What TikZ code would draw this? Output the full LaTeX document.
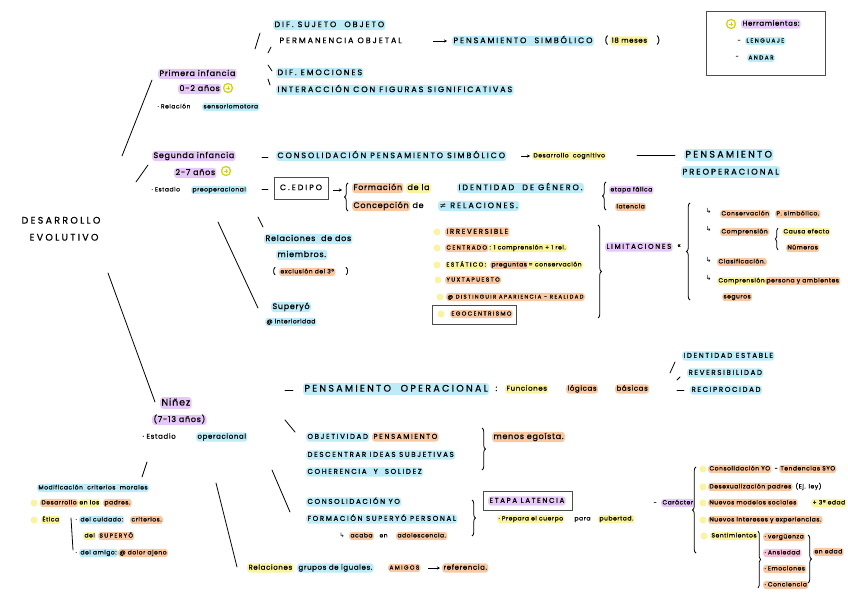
\documentclass[tikz,border=0pt]{standalone}
\usepackage{fontspec}
\usetikzlibrary{decorations.pathreplacing,arrows.meta}
\newfontfamily\hw[LetterSpace=9,FakeBold=0.6]{Poppins}
\newfontfamily\hwc[LetterSpace=24,FakeBold=0.6]{Poppins}
\newfontfamily\dv{DejaVu Sans}
\definecolor{cb}{HTML}{BDEBF7}
\definecolor{cp}{HTML}{E6C8F6}
\definecolor{cy}{HTML}{FAF3A0}
\definecolor{co}{HTML}{F8C8A2}
\definecolor{ck}{HTML}{F7C2D8}
\definecolor{ci}{HTML}{D2D21E}
\tikzset{
 hl/.style={anchor=west, inner sep=1.3pt, rounded corners=3pt},
 B/.style={hl, fill=cb}, P/.style={hl, fill=cp}, Y/.style={hl, fill=cy},
 O/.style={hl, fill=co}, K/.style={hl, fill=ck}, N/.style={hl},
 s1/.style={font=\hw\fontsize{6}{7}\selectfont, text height=4.3pt, text depth=1.4pt},
 s2/.style={font=\hw\fontsize{7}{8}\selectfont, text height=5pt, text depth=1.6pt},
 s3/.style={font=\hw\fontsize{8}{9}\selectfont, text height=5.8pt, text depth=1.8pt},
 s4/.style={font=\hw\fontsize{9.5}{11}\selectfont, text height=7pt, text depth=2pt},
 c1/.style={font=\hwc\fontsize{5.8}{7}\selectfont, text height=4.4pt, text depth=1.3pt},
 c2/.style={font=\hwc\fontsize{7}{8}\selectfont, text height=5.2pt, text depth=1.5pt},
 c3/.style={font=\hwc\fontsize{8}{9}\selectfont, text height=6pt, text depth=1.7pt},
 c4/.style={font=\hwc\fontsize{9.5}{11}\selectfont, text height=7.2pt, text depth=2pt},
 stroke/.style={line width=0.8pt, line cap=round},
 arr/.style={line width=0.7pt, -{Stealth[length=3pt,width=3pt]}},
 brc/.style={line width=0.8pt, decorate, decoration={brace, amplitude=3.5pt}},
 icon/.style={circle, draw=ci, line width=1.3pt, minimum size=9pt, inner sep=0pt,
   path picture={\draw[ci, line width=0.9pt]
     ([xshift=-1.8pt]path picture bounding box.center) -- ([xshift=1.8pt]path picture bounding box.center)
     ([yshift=-1.8pt]path picture bounding box.center) -- ([yshift=1.8pt]path picture bounding box.center);}},
 ydot/.style={circle, fill=cy, minimum size=7pt, inner sep=0pt,
   path picture={\fill (path picture bounding box.center) circle (0.7pt);}},
 frame/.style={draw=black!70, line width=0.9pt, inner sep=0pt},
}
\begin{document}
\begin{tikzpicture}[x=1pt,y=-1pt]
\fill[white] (0,0) rectangle (848,599);
\useasboundingbox (0,0) rectangle (848,599);

% ---------- centre ----------
\node[N,c4,anchor=center] (dev1) at (61,221) {DESARROLLO};
\node[N,c4,anchor=center] (dev2) at (64,238) {EVOLUTIVO};

% main strokes
\coordinate (L1a) at (122,156); \coordinate (L1b) at (152,80);
\coordinate (L2a) at (136,182); \coordinate (L2b) at (148,165);
\coordinate (L3a) at (108,273); \coordinate (L3b) at (155,402);
\draw[stroke] (L1a) -- (L1b);
\draw[stroke] (L2a) -- (L2b);
\draw[stroke] (L3a) -- (L3b);

% ---------- primera infancia ----------
\node[P,s3] (p1) at (158,74) {Primera infancia};
\node[P,s3] (p2) at (178,89) {0-2 años};
\node[icon] (ic1) at (228,88) {};
\node[N,s1] (p3) at (156,107) {· Relación};
\node[B,s1] (p4) at (202,107) {sensoriomotora};

\coordinate (a1) at (255,49); \coordinate (a2) at (260,33);
\coordinate (a3) at (268,53); \coordinate (a4) at (271,47);
\coordinate (a5) at (268,65); \coordinate (a6) at (272,71);
\coordinate (a7) at (268,79); \coordinate (a8) at (270,85);
\draw[stroke] (a1) -- (a2); \draw[stroke] (a3) -- (a4);
\draw[stroke] (a5) -- (a6); \draw[stroke] (a7) -- (a8);

\node[B,c3] (t1) at (273,25) {DIF.~SUJETO~ OBJETO};
\node[N,c3] (t2) at (278,41) {PERMANENCIA OBJETAL};
\coordinate (ta1) at (433,41); \coordinate (ta2) at (447,41);
\draw[arr] (ta1) -- (ta2);
\node[B,c3] (t3) at (452,41) {PENSAMIENTO~ SIMBÓLICO};
\node[N,s3] (t4) at (603,41) {(};
\node[Y,s2] (t5) at (610,41) {18 meses};
\node[N,s3] (t6) at (655,41) {)};
\node[B,c3] (t7) at (276,73) {DIF. EMOCIONES};
\node[B,c3] (t8) at (276,90) {INTERACCIÓN CON FIGURAS SIGNIFICATIVAS};

% ---------- herramientas box ----------
\node[frame, minimum width=119pt, minimum height=64pt] (hbox) at (765.5,43) {};
\node[icon] (ic2) at (731,24) {};
\node[P,s2] (h1) at (741,24) {Herramientas:};
\node[N,s1] (h2a) at (736,41) {-};
\node[B,c1] (h2) at (745,41) {LENGUAJE};
\node[N,s1] (h3a) at (734,57) {-};
\node[B,c1] (h3) at (747,58) {ANDAR};

% ---------- segunda infancia ----------
\node[P,s3] (q1) at (152,156) {Segunda infancia};
\node[P,s3] (q2) at (174,173) {2-7 años};
\node[icon] (ic3) at (226,171) {};
\node[N,s1] (q3) at (150,190) {· Estadio};
\node[B,s1] (q4) at (191,190) {preoperacional};

\coordinate (d1) at (262,157); \coordinate (d2) at (268,157);
\coordinate (d3) at (262,189); \coordinate (d4) at (268,189);
\draw[stroke] (d1) -- (d2); \draw[stroke] (d3) -- (d4);

\node[B,c3] (q5) at (276,156) {CONSOLIDACIÓN PENSAMIENTO SIMBÓLICO};
\coordinate (qa1) at (521,156); \coordinate (qa2) at (530,156);
\draw[arr] (qa1) -- (qa2);
\node[Y,s1] (q6) at (532,156) {Desarrollo~ cognitivo};
\coordinate (ql1) at (637,155); \coordinate (ql2) at (675,155);
\draw[stroke] (ql1) -- (ql2);
\node[B,c4] (q7) at (684,155) {PENSAMIENTO};
\node[B,c4,font=\hwc\fontsize{8.3}{10}\selectfont] (q8) at (681,172) {PREOPERACIONAL};

\node[frame, minimum width=54pt, minimum height=22pt, c3, anchor=center] (edipo) at (301,188) {C.EDIPO};
\coordinate (ea1) at (333,190); \coordinate (ea2) at (342,190);
\draw[arr] (ea1) -- (ea2);
\coordinate (br1a) at (348,211); \coordinate (br1b) at (348,183);
\draw[brc] (br1a) -- (br1b);
\node[O,s3] (r1) at (352,188) {Formación};
\node[Y,s3] (r2) at (406,188) {de la};
\node[B,c3] (r3) at (457,188) {IDENTIDAD~ DE GÉNERO.};
\node[O,s3] (r4) at (352,206) {Concepción};
\node[N,s3] (r5) at (411,206) {de};
\node[B,c3] (r6) at (438,206) {{\dv ≠} RELACIONES.};
\coordinate (br2a) at (606,210); \coordinate (br2b) at (606,182);
\draw[brc] (br2a) -- (br2b);
\node[P,s1] (r7) at (609,190) {etapa fálica};
\node[O,s1] (r8) at (615,207) {latencia};

\coordinate (e1) at (258,217); \coordinate (e2) at (263,227);
\coordinate (e3) at (218,222); \coordinate (e4) at (258,308);
\draw[stroke] (e1) -- (e2); \draw[stroke] (e3) -- (e4);

\node[B,s3] (u1) at (264,239) {Relaciones~ de dos};
\node[B,s3] (u2) at (276,255) {miembros.};
\node[N,s2] (u3) at (271,272) {(};
\node[O,s1] (u4) at (279,272) {exclusión del 3º};
\node[N,s2] (u5) at (344,272) {)};
\node[B,s3] (u6) at (271,307) {Superyó};
\node[B,s1] (u7) at (265,322) {@ interioridad};

% ---------- lista central ----------
\node[ydot] (m1d) at (437,232) {};
\node[O,c2] (m1) at (445,232) {IRREVERSIBLE};
\node[ydot] (m2d) at (437,248) {};
\node[O,c1] (m2) at (445,248) {CENTRADO};
\node[Y,s1] (m2b) at (488,248) {: 1 comprensión + 1 rel.};
\node[ydot] (m3d) at (437,265) {};
\node[Y,c1] (m3) at (445,265) {ESTÁTICO:};
\node[O,s1] (m3b) at (490,265) {preguntas};
\node[Y,s1] (m3c) at (527,265) {= conservación};
\node[ydot] (m4d) at (438,280) {};
\node[O,c1] (m4) at (445,280) {YUXTAPUESTO};
\node[ydot] (m5d) at (440,297) {};
\node[O,c1,font=\hwc\fontsize{5.4}{7}\selectfont] (m5) at (446,297) {@ DISTINGUIR APARIENCIA - REALIDAD};
\node[frame, minimum width=84pt, minimum height=19pt] (egobox) at (474,314.5) {};
\node[ydot] (m6d) at (441,314) {};
\node[O,c1] (m6) at (450,314) {EGOCENTRISMO};

\coordinate (br3a) at (598,225); \coordinate (br3b) at (598,318);
\draw[brc] (br3a) -- (br3b);
\node[P,c2] (lim) at (605,247) {LIMITACIONES};
\node[N,s2] (limx) at (676,246) {«};
\coordinate (br4a) at (690,300); \coordinate (br4b) at (690,203);
\draw[brc] (br4a) -- (br4b);

\node[N,s2] (k0a) at (704,212) {\dv ↳};
\node[O,s1] (k1) at (720,214) {Conservación};
\node[O,s1] (k2) at (775,214) {P. simbólico.};
\node[N,s2] (k0b) at (704,230) {\dv ↳};
\node[O,s1] (k3) at (720,232) {Comprensión};
\coordinate (br5a) at (778,250); \coordinate (br5b) at (778,228);
\draw[brc, decoration={brace, amplitude=2.5pt}] (br5a) -- (br5b);
\node[Y,s1] (k4) at (782,232) {Causa efecto};
\node[O,s1] (k5) at (786,248) {Números};
\node[N,s2] (k0c) at (704,261) {\dv ↳};
\node[O,s1] (k6) at (717,262) {Clasificación.};
\node[N,s2] (k0d) at (704,279) {\dv ↳};
\node[Y,s1] (k7) at (717,281) {Comprensión};
\node[O,s1] (k8) at (765,281) {persona y ambientes};
\node[O,s1] (k9) at (722,297) {seguros};

% ---------- niñez ----------
\node[P,s4] (n1) at (160,403) {Niñez};
\node[P,s3] (n2) at (152,420) {(7-13 años)};
\node[N,s2] (n3) at (141,437) {· Estadio};
\node[B,s2] (n4) at (196,437) {operacional};

\coordinate (f1) at (285,390); \coordinate (f2) at (293,390);
\draw[stroke] (f1) -- (f2);
\node[B,c4] (o1) at (303,389) {PENSAMIENTO~ OPERACIONAL};
\node[N,s3] (o1c) at (494,389) {:};
\node[Y,s2] (o2) at (505,389) {Funciones};
\node[O,s2] (o3) at (566,389) {lógicas};
\node[O,s2] (o3b) at (615,389) {básicas};
\coordinate (f3) at (670,373); \coordinate (f4) at (675,362);
\coordinate (f5) at (677,380); \coordinate (f6) at (680,377);
\coordinate (f7) at (677,390); \coordinate (f8) at (684,390);
\draw[stroke] (f3) -- (f4); \draw[stroke] (f5) -- (f6); \draw[stroke] (f7) -- (f8);
\node[B,c2] (o4) at (682,356) {IDENTIDAD ESTABLE};
\node[B,c2] (o5) at (687,373) {REVERSIBILIDAD};
\node[B,c2] (o6) at (690,390) {RECIPROCIDAD};

\coordinate (f9) at (285,420); \coordinate (f10) at (295,432);
\draw[stroke] (f9) -- (f10);
\node[B,c2] (o7) at (306,437) {OBJETIVIDAD};
\node[O,c2] (o8) at (372,437) {PENSAMIENTO};
\node[B,c2] (o9) at (306,455) {DESCENTRAR IDEAS SUBJETIVAS};
\node[B,c2] (o10) at (306,472) {COHERENCIA~ Y~ SOLIDEZ};
\coordinate (br6a) at (482,428); \coordinate (br6b) at (482,470);
\draw[brc] (br6a) -- (br6b);
\node[O,s3] (o11) at (492,437) {menos egoísta.};

\coordinate (f11) at (272,470); \coordinate (f12) at (290,512);
\draw[stroke] (f11) -- (f12);
\node[B,c2] (o12) at (306,502) {CONSOLIDACIÓN YO};
\node[B,c2] (o13) at (306,519) {FORMACIÓN SUPERYÓ PERSONAL};
\node[N,s1] (o14a) at (338,536) {\dv ↳};
\node[O,s1] (o14) at (349,536) {acaba};
\node[N,s1] (o15) at (378,536) {en};
\node[O,s1] (o16) at (396,536) {adolescencia.};
\coordinate (br7a) at (472,500); \coordinate (br7b) at (472,536);
\draw[brc] (br7a) -- (br7b);
\node[frame, minimum width=89pt, minimum height=19pt] (latbox) at (527.5,500.5) {};
\node[P,c2] (lat) at (488,501) {ETAPA LATENCIA};
\node[Y,s1] (lt1) at (497,519) {· Prepara el cuerpo};
\node[N,s1] (lt2) at (573,519) {para};
\node[Y,s1] (lt3) at (598,519) {pubertad.};

\node[N,s1] (car0) at (652,503) {-};
\node[P,s1] (car) at (661,503) {Carácter};
\coordinate (br8a) at (696,553); \coordinate (br8b) at (696,467);
\draw[brc] (br8a) -- (br8b);
\node[ydot] (w1d) at (703,469) {};
\node[O,s1] (w1) at (708,469) {Consolidación YO};
\node[N,s1] (w1b) at (773,469) {-};
\node[O,s1] (w2) at (779,469) {Tendencias SYO};
\node[ydot] (w3d) at (703,487) {};
\node[O,s1] (w3) at (708,487) {Desexualización padres};
\node[N,s1] (w3b) at (794,487) {(Ej. ley)};
\node[ydot] (w4d) at (703,503) {};
\node[O,s1] (w4) at (708,503) {Nuevos modelos sociales};
\node[Y,s1] (w4b) at (811,503) {+ 3ª edad};
\node[ydot] (w5d) at (703,520) {};
\node[O,s1] (w5) at (708,520) {Nuevos intereses y experiencias.};
\node[ydot] (w6d) at (704,536) {};
\node[Y,s1] (w6) at (710,536) {Sentimientos};
\coordinate (br9a) at (758,531); \coordinate (br9b) at (758,588);
\draw[brc, decoration={brace, amplitude=2.5pt}] (br9a) -- (br9b);
\node[O,s1] (v1) at (763,537) {· vergüenza};
\node[K,s1] (v2) at (763,553) {· Ansiedad};
\node[O,s1] (v3) at (763,569) {· Emociones};
\node[O,s1] (v4) at (763,585) {· Conciencia};
\coordinate (br10a) at (808,535); \coordinate (br10b) at (808,583);
\draw[brc] (br10a) -- (br10b);
\node[O,s1] (v5) at (813,552) {en edad};

% ---------- abajo izquierda ----------
\coordinate (g0a) at (142,477); \coordinate (g0b) at (147,462);
\draw[stroke] (g0a) -- (g0b);
\node[B,s1] (b1) at (37,488) {Modificación~ criterios~ morales};
\node[ydot] (b2d) at (34,503) {};
\node[O,s1] (b2) at (40,503) {Desarrollo};
\node[Y,s1] (b3) at (78,503) {en los};
\node[O,s1] (b4) at (103,503) {padres.};
\node[ydot] (b5d) at (34,520) {};
\node[Y,s1] (b5) at (41,520) {Ética};
\coordinate (bv1) at (71,518); \coordinate (bv2) at (73,550);
\draw[stroke] (bv1) -- (bv2);
\node[N,s1] (b6a) at (74,520) {·};
\node[B,s1] (b6) at (79,520) {del cuidado:};
\node[O,s1] (b7) at (130,520) {criterios.};
\node[Y,s1] (b8) at (83,536) {del};
\node[O,c1] (b8b) at (98,536) {SUPERYÓ};
\node[N,s1] (b9a) at (74,553) {·};
\node[B,s1] (b9) at (79,553) {del amigo:};
\node[O,s1] (b10) at (118,553) {@ dolor ajeno};

\coordinate (g1a) at (216,483); \coordinate (g1b) at (237,567);
\draw[stroke] (g1a) -- (g1b);
\node[Y,s2] (g1) at (247,568) {Relaciones};
\node[B,s2] (g2) at (297,568) {grupos de iguales.};
\node[O,c1] (g3) at (388,568) {AMIGOS};
\coordinate (ga1) at (428,568); \coordinate (ga2) at (440,568);
\draw[arr] (ga1) -- (ga2);
\node[O,s2] (g4) at (442,568) {referencia.};
\end{tikzpicture}
\end{document}
